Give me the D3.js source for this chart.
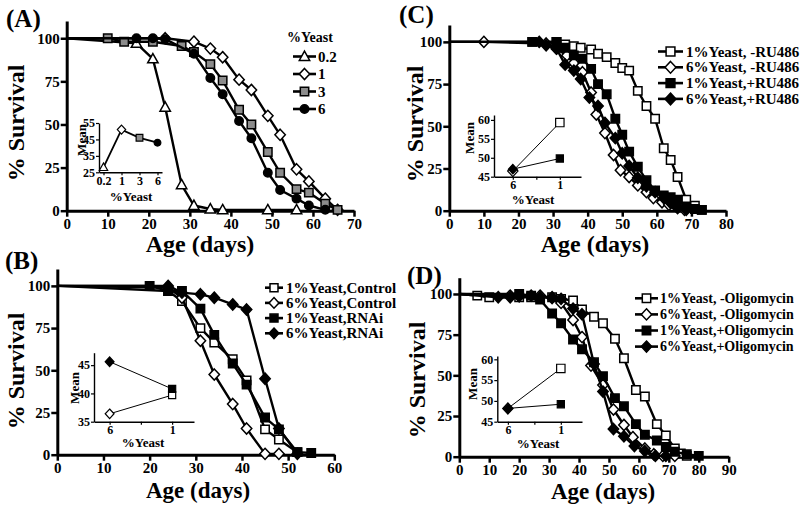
<!DOCTYPE html>
<html><head><meta charset="utf-8">
<script src="https://cdn.jsdelivr.net/npm/d3@7"></script>
<style>
body{margin:0;background:#fff;}
svg text{font-family:"Liberation Serif","Times New Roman",serif;font-weight:bold;fill:#000;}
</style></head><body>
<svg id="c" width="800" height="512"></svg>
<script>
// ---------------- DATA ----------------
const survivalTicks = [0, 25, 50, 75, 100];

// Panel A: % yeast survival (day, % survival)
const aXTicks = [0, 10, 20, 30, 40, 50, 60, 70];
const aLegendLabels = ["0.2", "1", "3", "6"];
const aYeast02 = [[0,100],[17,97],[21,88],[24,60],[28,15],[31,3],[35,1],[38,0.5],[49,0.5],[56,0.5]];
const aYeast1  = [[0,100],[24,100],[31,98],[35,94],[38,89],[42,76],[45,70],[49,55],[52,44],[56,24],[59,17],[63,7],[66,0.5]];
const aYeast3  = [[0,100],[10,100],[14,98],[21,98],[28,95.5],[31,92],[35,85],[38,75.5],[42,58.5],[45,50],[49,34],[52,22],[56,12.5],[59,10.5],[63,4],[66,0.5]];
const aYeast6  = [[0,100],[17,100],[21,100],[24,99.5],[31,91],[35,77],[38,67.5],[42,52],[45,42],[49,22],[52,12],[56,7],[59,3],[63,0.5]];
const aInsetYeast = ["0.2", "1", "3", "6"];
const aInsetMean = [28, 51, 46, 43];
const aInsetTicks = [25, 35, 45, 55];

// Panel B
const bXTicks = [0, 10, 20, 30, 40, 50, 60];
const bLegendLabels = ["1%Yeast,Control", "6%Yeast,Control", "1%Yeast,RNAi", "6%Yeast,RNAi"];
const bControl1 = [[0,100],[24,97],[27,91],[31,75],[34,66.5],[38,56.5],[41,44],[45,15],[48,9],[52,1.5]];
const bControl6 = [[0,100],[24,99],[27,93],[31,67.5],[34,47.5],[38,30],[41,15.5],[45,0.5],[48,0.5]];
const bRNAi1    = [[0,100],[20,100],[24,97],[27,97],[31,86.5],[34,71],[38,54],[41,41.5],[45,22],[48,15],[52,1.5],[55,1]];
const bRNAi6    = [[0,100],[24,100],[27,96],[31,95],[34,93],[38,89],[41,86],[45,45],[48,15.5],[52,0.5]];
const bInsetYeast = ["6", "1"];
const bInsetControl = [36.4, 39.7];
const bInsetRNAi = [45.6, 40.8];
const bInsetTicks = [35, 40, 45];

// Panel C
const cXTicks = [0, 10, 20, 30, 40, 50, 60, 70, 80];
const cLegendLabels = ["1%Yeast, -RU486", "6%Yeast, -RU486", "1%Yeast,+RU486", "6%Yeast,+RU486"];
const cMinusRU1 = [[0,100],[24,100],[31,100],[33.5,98.5],[36,97.5],[38,96.5],[41,95.5],[43,93],[45.5,91],[48,87.5],[50,84.5],[52,83],[54.5,71],[57,62],[59.5,54.5],[62,37],[64,30],[66,20],[68.5,6.5],[71,3],[73,0.5]];
const cMinusRU6 = [[0,100],[10,100],[28,99],[31,96],[34,92],[36,87.5],[38.5,82],[41,70],[42.5,57],[45,46],[47.5,33],[49.5,24],[52,20],[54.5,15],[57,11],[59,7.5],[61.5,5],[63.5,3.5],[66,1.5],[68,0.5]];
const cPlusRU1  = [[0,100],[24,100],[31,100],[33.5,96.5],[36,92],[38.5,90],[41,84],[43,75],[45.5,69],[48,54.5],[50,45],[52,35],[54.5,26],[57,18],[59.5,12],[62,9],[64,8],[66,6.5],[68.5,2.5],[71,1],[73,0.5]];
const cPlusRU6  = [[0,100],[26,100],[28,98],[31,96],[33.5,86.5],[36,83],[38,78],[40.5,67],[43,62],[45,52],[48,43],[50,34],[52,26.5],[54.5,19.5],[57,14.5],[59.5,11],[62,7.5],[64,4.5],[66,2],[68.5,0.5]];
const cInsetYeast = ["6", "1"];
const cInsetMinusRU = [46.5, 59.3];
const cInsetPlusRU = [47, 49.8];
const cInsetTicks = [45, 50, 55, 60];

// Panel D
const dXTicks = [0, 10, 20, 30, 40, 50, 60, 70, 80, 90];
const dLegendLabels = ["1%Yeast, -Oligomycin", "6%Yeast, -Oligomycin", "1%Yeast,+Oligomycin", "6%Yeast,+Oligomycin"];
const dMinusOl1 = [[0,100],[6,99],[10,98],[20,98],[24,98],[31,98],[34,97],[38,96],[41,90.5],[45,86],[48,82],[52,72.5],[55,60.5],[59,41],[62,37],[66,20],[69,13],[72,5],[74,2],[76,0.5]];
const dMinusOl6 = [[0,100],[17,99],[20,98.5],[27,99],[31,97.5],[34,94.5],[38,84],[41,73.5],[44,56],[48,44],[51.5,29],[55,19.5],[58,12],[62,5],[65,1.5],[68,0.5],[72,0.5]];
const dPlusOl1  = [[0,100],[20,100],[24,99],[27,96.5],[31,88],[34,82],[38,72],[41,66],[45,58],[48,49.5],[52,36],[55,31],[59,20],[62,13.5],[66,10],[69,6],[72,3],[76,1.5],[80,0.5]];
const dPlusOl6  = [[0,100],[13,98],[17,98],[20,99],[24,99],[27,98],[31,98],[34,97],[38,91],[41,87.5],[45,57],[48,40],[51.5,17],[55,12.5],[58.5,6.5],[62,3.5],[65.5,0.5],[69,0.5]];
const dInsetYeast = ["6", "1"];
const dInsetMinusOl = [48.2, 57.8];
const dInsetPlusOl = [48.2, 49.2];
const dInsetTicks = [45, 50, 55, 60];

// ---------------- DRAWING ----------------
const svg = d3.select("#c");
const FONT = '"Liberation Serif","Times New Roman",serif';
const fills = {open: "#fff", black: "#000", gray: "#8c8c8c"};

function markerPath(type, k = 1) {
  if (type === "square") return `M${-4.2*k},${-4.2*k}H${4.2*k}V${4.2*k}H${-4.2*k}Z`;
  if (type === "diamond") return `M0,${-5.6*k}L${5.2*k},0L0,${5.6*k}L${-5.2*k},0Z`;
  if (type === "triangle") return `M0,${-5.4*k}L${5.2*k},${3.9*k}L${-5.2*k},${3.9*k}Z`;
  return d3.symbol(d3.symbolCircle, 56 * k * k)();
}

function styleAxis(sel, size, sw, tsw) {
  sel.attr("font-family", FONT).attr("font-size", size).attr("font-weight", "bold");
  sel.select(".domain").attr("stroke", "#000").attr("stroke-width", sw);
  sel.selectAll(".tick line").attr("stroke", "#000").attr("stroke-width", tsw);
  sel.selectAll(".tick text").attr("fill", "#000");
}

function drawPanel(p) {
  const g = svg.append("g");
  const x = d3.scaleLinear().domain([0, p.xMax]).range([p.left, p.right]);
  const y = d3.scaleLinear().domain([0, 110]).range([p.bottom, p.top]);
  g.append("g").attr("transform", `translate(0,${p.bottom})`)
    .call(d3.axisBottom(x).tickValues(p.xTicks).tickSize(6).tickSizeOuter(0).tickPadding(2))
    .call(s => styleAxis(s, 15, 3, 2.5));
  g.append("g").attr("transform", `translate(${p.left},0)`)
    .call(d3.axisLeft(y).tickValues(survivalTicks).tickSize(6).tickSizeOuter(0).tickPadding(1))
    .call(s => styleAxis(s, 15, 3, 2.5));
  const line = d3.line().x(d => x(d[0])).y(d => y(d[1]));
  p.series.forEach(s => {
    g.append("path").datum(s.data).attr("d", line).attr("fill", "none")
      .attr("stroke", "#000").attr("stroke-width", 2.4).attr("stroke-linejoin", "round");
    g.selectAll(null).data(s.data.filter(d => d[0] > 0)).join("path")
      .attr("transform", d => `translate(${x(d[0])},${y(d[1])})`)
      .attr("d", markerPath(s.marker)).attr("fill", fills[s.fill])
      .attr("stroke", "#000").attr("stroke-width", 1.5);
  });
  // panel label
  svg.append("text").attr("x", p.labelPos[0]).attr("y", p.labelPos[1]).attr("font-size", 25).text(p.label);
  // axis titles
  svg.append("text").attr("transform", `translate(${p.yTitlePos[0]},${p.yTitlePos[1]}) rotate(-90)`)
    .attr("text-anchor", "middle").attr("dominant-baseline", "central").attr("font-size", 24).text("% Survival");
  svg.append("text").attr("x", p.xTitlePos[0]).attr("y", p.xTitlePos[1])
    .attr("text-anchor", "middle").attr("dominant-baseline", "central").attr("font-size", p.xTitleSize || 24).text("Age (days)");
  // legend
  const L = p.legend;
  if (L.title) svg.append("text").attr("x", L.titleX).attr("y", L.titleY).attr("dominant-baseline", "central")
    .attr("font-size", 14).text(L.title);
  p.series.forEach((s, i) => {
    const yy = L.y0 + i * L.dy;
    svg.append("line").attr("x1", L.x1).attr("x2", L.x2).attr("y1", yy).attr("y2", yy)
      .attr("stroke", "#000").attr("stroke-width", 2.6);
    svg.append("path").attr("transform", `translate(${(L.x1 + L.x2) / 2},${yy})`)
      .attr("d", markerPath(s.marker, L.k)).attr("fill", fills[s.fill]).attr("stroke", "#000").attr("stroke-width", 1.5);
    svg.append("text").attr("x", L.tx).attr("y", yy).attr("dominant-baseline", "central")
      .attr("font-size", L.fs).text(L.labels[i]);
  });
}

function drawInset(p) {
  const g = svg.append("g");
  let xs, xAxis;
  if (p.point) {
    xs = d3.scalePoint().domain(p.cats).range([p.left, p.right]).padding(p.pad);
    xAxis = d3.axisBottom(xs);
  } else {
    const lin = d3.scaleLinear().domain(p.xDomain).range([p.left, p.right]);
    const pos = {"6": 0, "1": 2};
    xs = c => lin(pos[c]);
    xAxis = d3.axisBottom(lin).tickValues([0, 1, 2]).tickFormat(v => v === 0 ? p.cats[0] : v === 2 ? p.cats[1] : "");
  }
  const y = d3.scaleLinear().domain(p.yDomain).range([p.bottom, p.top]);
  g.append("g").attr("transform", `translate(0,${p.bottom})`)
    .call(xAxis.tickSize(3).tickSizeOuter(0).tickPadding(1))
    .call(s => styleAxis(s, 12, 1.4, 1.2));
  g.append("g").attr("transform", `translate(${p.left},0)`)
    .call(d3.axisLeft(y).tickValues(p.yTicks).tickSize(3).tickSizeOuter(0).tickPadding(1))
    .call(s => styleAxis(s, 12, 1.4, 1.2));
  p.lines.forEach(l => {
    const pts = p.cats.map((c, i) => [xs(c), y(l.values[i])]);
    g.append("path").attr("d", d3.line()(pts)).attr("fill", "none").attr("stroke", "#000").attr("stroke-width", l.sw);
    pts.forEach((pt, i) => {
      g.append("path").attr("transform", `translate(${pt[0]},${pt[1]})`)
        .attr("d", markerPath(l.markers[i], l.k)).attr("fill", fills[l.fills[i]])
        .attr("stroke", "#000").attr("stroke-width", 1.2);
    });
  });
  svg.append("text").attr("transform", `translate(${p.meanPos[0]},${p.meanPos[1]}) rotate(-90)`)
    .attr("text-anchor", "middle").attr("dominant-baseline", "central").attr("font-size", 13).text("Mean");
  svg.append("text").attr("x", p.yeastPos[0]).attr("y", p.yeastPos[1])
    .attr("text-anchor", "middle").attr("dominant-baseline", "central").attr("font-size", 13).text("%Yeast");
}

// Panel A
drawPanel({
  xMax: 70, xTicks: aXTicks, left: 66.7, right: 354, top: 21, bottom: 210.7,
  label: "(A)", labelPos: [6, 27], yTitlePos: [16, 123], xTitlePos: [200, 244],
  series: [
    {data: aYeast02, marker: "triangle", fill: "open"},
    {data: aYeast1, marker: "diamond", fill: "open"},
    {data: aYeast3, marker: "square", fill: "gray"},
    {data: aYeast6, marker: "circle", fill: "black"}
  ],
  legend: {title: "%Yeast", titleX: 287, titleY: 37, y0: 56.5, dy: 17.5, x1: 293, x2: 316, tx: 318, fs: 15, k: 1, labels: aLegendLabels}
});
drawInset({
  point: true, cats: aInsetYeast, pad: 0.25, left: 99, right: 162, top: 123, bottom: 172.3,
  yDomain: [25, 55], yTicks: aInsetTicks,
  lines: [{values: aInsetMean, markers: ["triangle", "diamond", "square", "circle"], fills: ["open", "open", "gray", "black"], sw: 1.8, k: 0.8}],
  meanPos: [81, 140], yeastPos: [131, 196]
});

// Panel B
drawPanel({
  xMax: 60, xTicks: bXTicks, left: 57.3, right: 334.3, top: 269, bottom: 454.7,
  label: "(B)", labelPos: [5, 269], yTitlePos: [16, 371], xTitlePos: [198, 490], xTitleSize: 23,
  series: [
    {data: bControl1, marker: "square", fill: "open"},
    {data: bControl6, marker: "diamond", fill: "open"},
    {data: bRNAi1, marker: "square", fill: "black"},
    {data: bRNAi6, marker: "diamond", fill: "black"}
  ],
  legend: {y0: 287.7, dy: 15.2, x1: 265, x2: 283, tx: 286, fs: 15, k: 0.95, labels: bLegendLabels}
});
drawInset({
  point: false, cats: bInsetYeast, xDomain: [-0.5, 2.7], left: 94, right: 194, top: 352.7, bottom: 421.7,
  yDomain: [35, 47.2], yTicks: bInsetTicks,
  lines: [
    {values: bInsetControl, markers: ["diamond", "square"], fills: ["open", "open"], sw: 1, k: 0.85},
    {values: bInsetRNAi, markers: ["diamond", "square"], fills: ["black", "black"], sw: 1, k: 0.85}
  ],
  meanPos: [74, 388], yeastPos: [143, 442]
});

// Panel C
drawPanel({
  xMax: 80, xTicks: cXTicks, left: 449.3, right: 726, top: 25, bottom: 210.7,
  label: "(C)", labelPos: [399, 23], yTitlePos: [415, 124], xTitlePos: [595, 244],
  series: [
    {data: cMinusRU1, marker: "square", fill: "open"},
    {data: cMinusRU6, marker: "diamond", fill: "open"},
    {data: cPlusRU1, marker: "square", fill: "black"},
    {data: cPlusRU6, marker: "diamond", fill: "black"}
  ],
  legend: {y0: 51.5, dy: 15.8, x1: 658, x2: 683, tx: 686, fs: 15, k: 1.05, labels: cLegendLabels}
});
drawInset({
  point: false, cats: cInsetYeast, xDomain: [-0.8, 2.9], left: 494, right: 581, top: 115, bottom: 176.7,
  yDomain: [45, 61.3], yTicks: cInsetTicks,
  lines: [
    {values: cInsetMinusRU, markers: ["diamond", "square"], fills: ["open", "open"], sw: 1, k: 1.0},
    {values: cInsetPlusRU, markers: ["diamond", "square"], fills: ["black", "black"], sw: 1, k: 0.85}
  ],
  meanPos: [469, 138], yeastPos: [533, 199]
});

// Panel D
drawPanel({
  xMax: 90, xTicks: dXTicks, left: 459.3, right: 728.7, top: 277.7, bottom: 456.7,
  label: "(D)", labelPos: [407, 284], yTitlePos: [417, 380], xTitlePos: [603, 491], xTitleSize: 23,
  series: [
    {data: dMinusOl1, marker: "square", fill: "open"},
    {data: dMinusOl6, marker: "diamond", fill: "open"},
    {data: dPlusOl1, marker: "square", fill: "black"},
    {data: dPlusOl6, marker: "diamond", fill: "black"}
  ],
  legend: {y0: 298.3, dy: 16.1, x1: 635, x2: 658, tx: 660, fs: 14, k: 1.0, labels: dLegendLabels}
});
drawInset({
  point: false, cats: dInsetYeast, xDomain: [-0.4, 2.8], left: 497.3, right: 582, top: 356, bottom: 421.7,
  yDomain: [45, 60.8], yTicks: dInsetTicks,
  lines: [
    {values: dInsetMinusOl, markers: ["diamond", "square"], fills: ["open", "open"], sw: 1, k: 1.0},
    {values: dInsetPlusOl, markers: ["diamond", "square"], fills: ["black", "black"], sw: 1, k: 0.85}
  ],
  meanPos: [472, 384], yeastPos: [538, 443]
});
</script>
</body></html>
